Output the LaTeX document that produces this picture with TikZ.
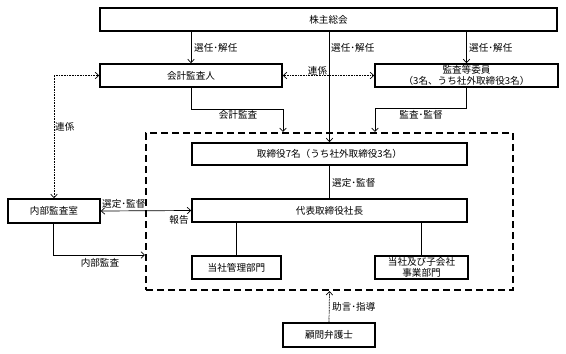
\documentclass[tikz,border=0pt]{standalone}
\usepackage{fontspec}
\setmainfont{Noto Sans CJK JP}
\usetikzlibrary{arrows.meta}
\begin{document}
\begin{tikzpicture}[x=1pt,y=-1pt,
  every node/.style={font=\fontsize{9.6}{10.5}\selectfont, inner sep=0pt},
  box/.style={draw, line width=1.6pt, rectangle, align=center},
  conn/.style={line width=0.7pt},
  tip/.style={-{Straight Barb[length=3.5pt,width=6.5pt]}},
  tips/.style={{Straight Barb[length=3.5pt,width=6.5pt]}-{Straight Barb[length=3.5pt,width=6.5pt]}},
  dots/.style={dash pattern=on 1pt off 0.6pt},
  grpbox/.style={draw, line width=2pt, dash pattern=on 7pt off 4pt, rectangle}
]
\useasboundingbox (0,0) rectangle (566,354);
% boxes
\node[box, minimum width=457pt, minimum height=23pt] (top) at (328.5,19.5) {株主総会};
\node[box, minimum width=182pt, minimum height=23pt] (kaikei) at (191,75.5) {会計監査人};
\node[box, minimum width=183pt, minimum height=23pt] (kansa) at (466.5,75.5) {監査等委員\\（3名、うち社外取締役3名）};
\node[grpbox, minimum width=367pt, minimum height=157pt] (grp) at (329.5,211.5) {};
\node[box, minimum width=275pt, minimum height=22pt] (tori) at (329.5,154) {取締役7名（うち社外取締役3名）};
\node[box, minimum width=275pt, minimum height=23pt] (daihyo) at (329.5,210.5) {代表取締役社長};
\node[box, minimum width=92pt, minimum height=24pt] (naibu) at (54,211) {内部監査室};
\node[box, minimum width=89pt, minimum height=23pt] (kanri) at (236.5,267.5) {当社管理部門};
\node[box, minimum width=93pt, minimum height=23pt] (jigyo) at (421.5,267.5) {当社及び子会社\\事業部門};
\node[box, minimum width=92pt, minimum height=24pt] (komon) at (329,335) {顧問弁護士};
% coordinates
\coordinate (ka) at (283,109);
\coordinate (kb) at (375,108);
\coordinate (nb) at (53,255);
% connectors
\draw[conn,tip] (kaikei.north |- top.south) -- (kaikei.north);
\draw[conn,tip] (kansa.north |- top.south) -- (kansa.north);
\draw[conn,tip] (tori.north |- top.south) -- (tori.north);
\draw[conn,tips,dots] (kaikei.east) -- (kansa.west);
\draw[conn,tip] (kaikei.south) |- (ka) -- (ka |- grp.north);
\draw[conn,tip] (kansa.south) |- (kb) -- (kb |- grp.north);
\draw[conn,tips,dots] (kaikei.west) -| (naibu.north);
\draw[conn,tips] (naibu.east) -- (daihyo.west);
\draw[conn,tip] (naibu.south -| nb) -- (nb) -- (nb -| grp.west);
\draw[conn] (tori.south) -- (daihyo.north);
\draw[conn] (kanri.north |- daihyo.south) -- (kanri.north);
\draw[conn] (jigyo.north |- daihyo.south) -- (jigyo.north);
\draw[conn,tip,dots] (komon.north) -- (grp.south);
% labels
\node[anchor=west] (l1) at (194,48) {選任･解任};
\node[anchor=west] (l2) at (331,48) {選任･解任};
\node[anchor=west] (l3) at (469,48) {選任･解任};
\node (l4) at (317.5,70.5) {連係};
\node (l5) at (238,115) {会計監査};
\node (l6) at (421,115) {監査･監督};
\node[anchor=west] (l7) at (55,127) {連係};
\node[anchor=west] (l8) at (332,183) {選定･監督};
\node[anchor=west] (l9) at (102,204) {選定･監督};
\node (l10) at (179,219.5) {報告};
\node (l11) at (100,262.5) {内部監査};
\node[anchor=west] (l12) at (332,307) {助言･指導};
\end{tikzpicture}
\end{document}
